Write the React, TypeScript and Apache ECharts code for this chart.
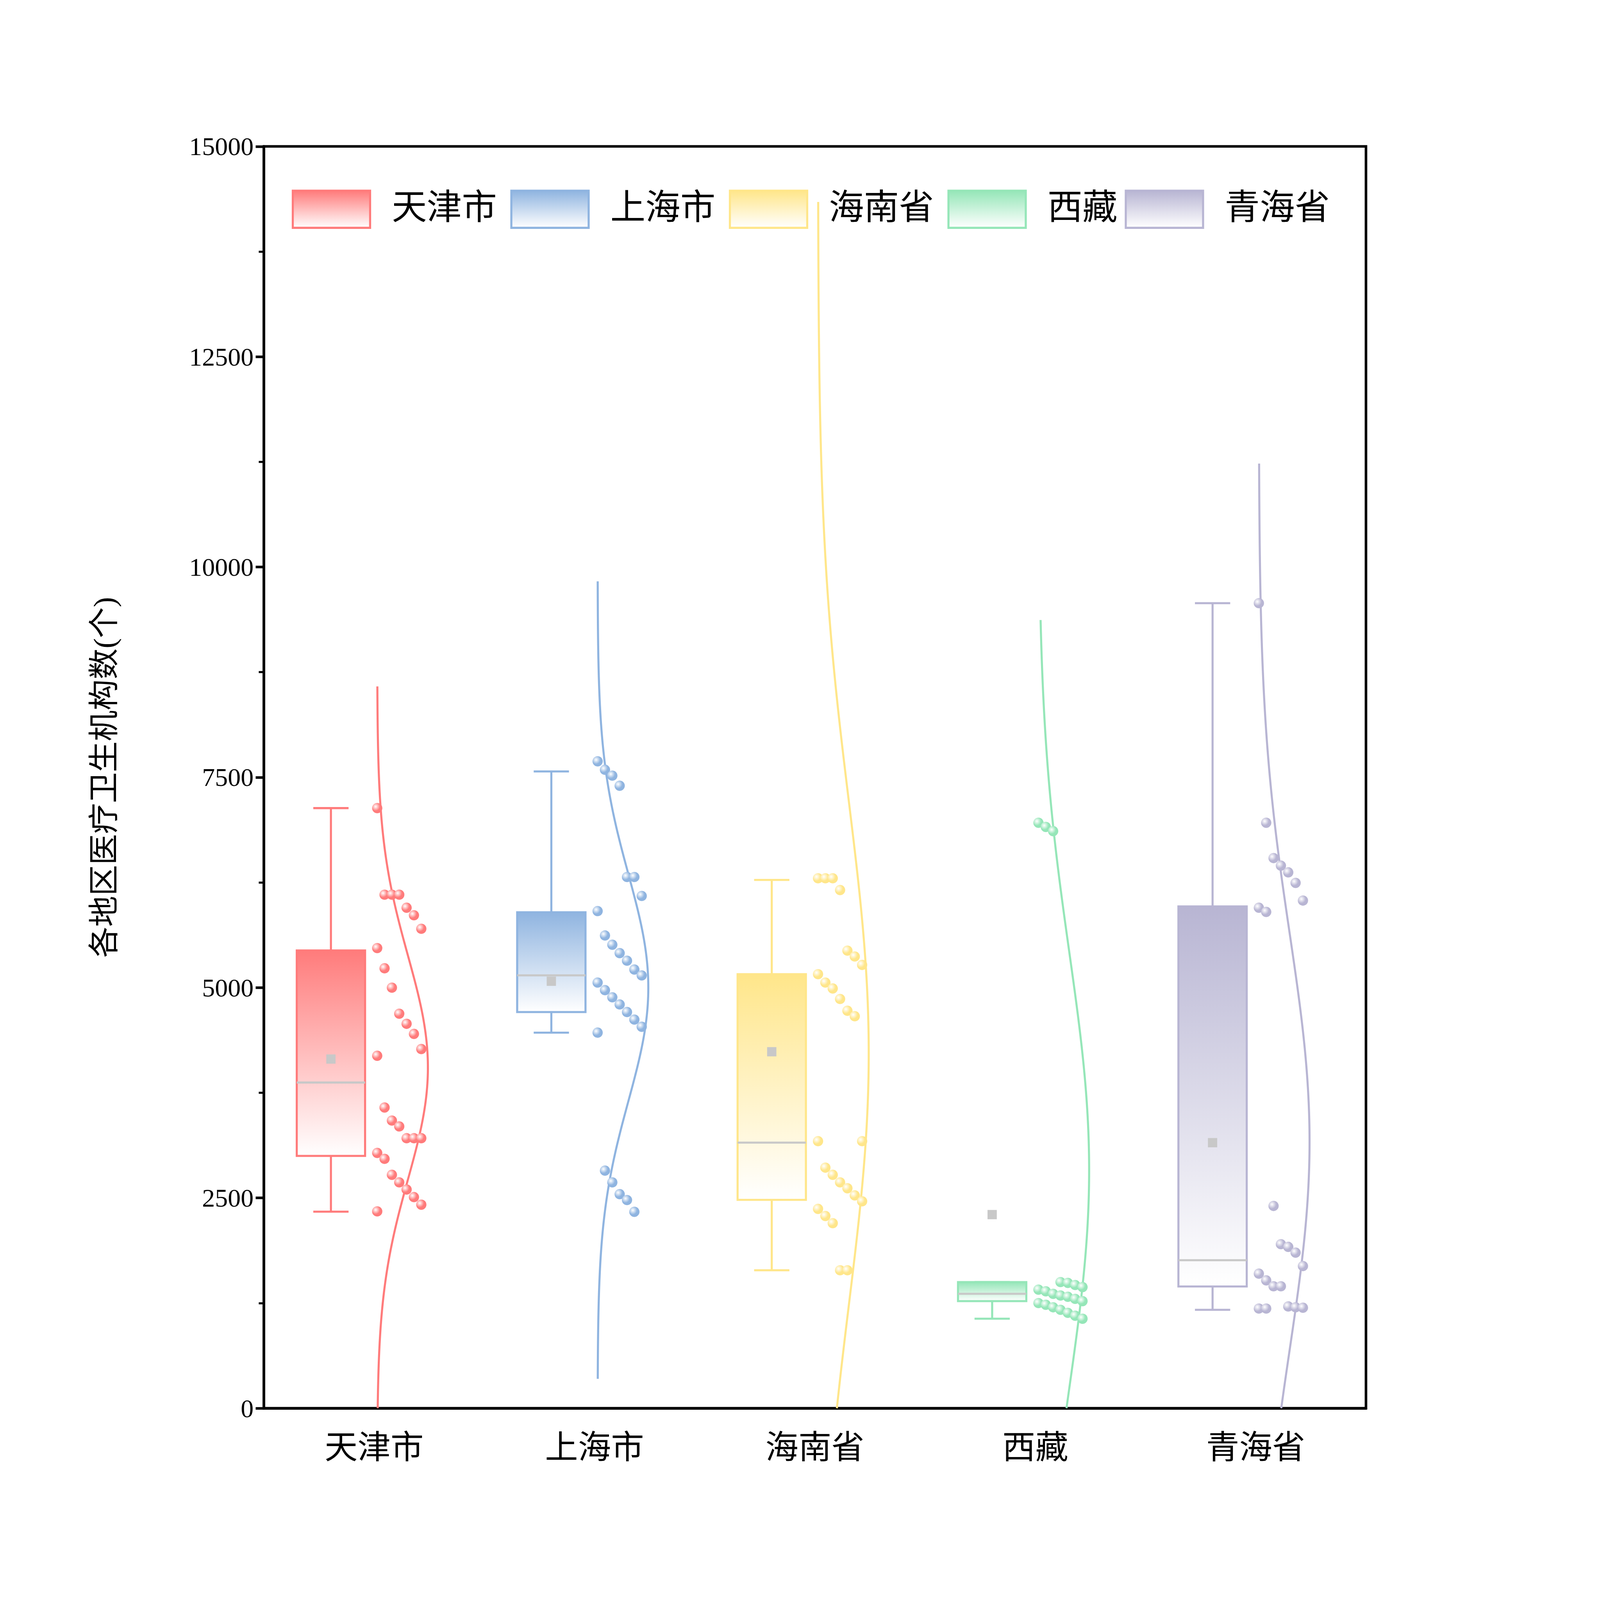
import React, { useEffect, useRef } from 'react';
import * as echarts from 'echarts';

const categories = ['天津市', '上海市', '海南省', '西藏', '青海省'];
const colors = ['#FF7B7B', '#8FB4E0', '#FFE68A', '#95E6B8', '#B8B5D3'];

// box stats: [whiskerLow, q1, median, q3, whiskerHigh]
const boxStats = [
  [2337, 3000, 3872, 5442, 7134],
  [4465, 4710, 5146, 5896, 7570],
  [1640, 2477, 3157, 5160, 6280],
  [1064, 1273, 1360, 1500, 1500],
  [1170, 1448, 1760, 5965, 9570],
];
const means = [4151, 5076, 4238, 2302, 3157];

// half-violin (normal) curves: centre, spread, extent
const curveMean = [4050, 5000, 4220, 2830, 3170];
const curveSd = [1330, 1350, 3000, 2600, 2480];
const curveLow = [0, 350, 0, 0, 0];
const curveHigh = [8580, 9830, 14340, 9370, 11230];

const tianjin = [7134, 6105, 6105, 6105, 5950, 5860, 5700, 5470, 5230, 5000, 4690, 4570, 4450, 4270, 4190, 3575, 3420, 3350, 3210, 3210, 3210, 3035, 2965, 2775, 2685, 2600, 2510, 2420, 2340];
const shanghai = [7690, 7590, 7520, 7400, 6315, 6315, 6090, 5910, 5620, 5510, 5410, 5320, 5215, 5145, 5060, 4970, 4885, 4800, 4710, 4620, 4535, 4465, 2825, 2685, 2545, 2475, 2335];
const hainan = [6300, 6300, 6300, 6160, 5440, 5370, 5270, 5160, 5060, 4990, 4865, 4725, 4660, 3175, 3175, 2860, 2775, 2685, 2615, 2530, 2460, 2370, 2285, 2200, 1640, 1640];
const tibet = [6960, 6910, 6860, 1500, 1490, 1465, 1440, 1410, 1390, 1360, 1340, 1325, 1300, 1273, 1250, 1230, 1200, 1170, 1134, 1100, 1064];
const qinghai = [9570, 6960, 6540, 6450, 6370, 6245, 6035, 5950, 5900, 2405, 1950, 1918, 1850, 1690, 1600, 1520, 1450, 1450, 1210, 1200, 1195, 1185, 1185];
const groups = [tianjin, shanghai, hainan, tibet, qinghai];

const legendX = [283, 495, 707, 919, 1091];

const SERIF = '"Liberation Serif", "DejaVu Serif", "Noto Sans CJK SC", serif';

export default function App() {
  const ref = useRef<HTMLDivElement | null>(null);

  useEffect(() => {
    document.body.style.margin = '0';
    document.body.style.overflow = 'hidden';
    if (!ref.current) return;
    const chart = echarts.init(ref.current, undefined, { renderer: 'svg' });
    const W = ref.current.clientWidth;
    const s = W / 1552;

    const boxSeries = categories.map((name, ci) => ({
      type: 'custom',
      name,
      data: [[ci]],
      silent: true,
      z: 2,
      renderItem: (_p: any, api: any) => {
        const color = colors[ci];
        const band = api.size([1, 0])[0];
        const cx = api.coord([ci, 0])[0];
        const y = (v: number) => api.coord([ci, v])[1];
        const [lo, q1, med, q3, hi] = boxStats[ci];
        const bx = cx - 0.196 * band;
        const bw = 0.31 * band;
        const cap = 0.08 * band;
        const lw = 2 * s;
        const children: any[] = [
          { type: 'line', shape: { x1: bx, y1: y(hi), x2: bx, y2: y(q3) }, style: { stroke: color, lineWidth: lw } },
          { type: 'line', shape: { x1: bx, y1: y(q1), x2: bx, y2: y(lo) }, style: { stroke: color, lineWidth: lw } },
          { type: 'line', shape: { x1: bx - cap, y1: y(hi), x2: bx + cap, y2: y(hi) }, style: { stroke: color, lineWidth: lw } },
          { type: 'line', shape: { x1: bx - cap, y1: y(lo), x2: bx + cap, y2: y(lo) }, style: { stroke: color, lineWidth: lw } },
          {
            type: 'rect',
            shape: { x: bx - bw / 2, y: y(q3), width: bw, height: y(q1) - y(q3) },
            style: {
              fill: new echarts.graphic.LinearGradient(0, 0, 0, 1, [
                { offset: 0, color },
                { offset: 1, color: '#ffffff' },
              ]),
              stroke: color,
              lineWidth: lw,
            },
          },
          { type: 'line', shape: { x1: bx - bw / 2, y1: y(med), x2: bx + bw / 2, y2: y(med) }, style: { stroke: '#C8C8C8', lineWidth: lw } },
          { type: 'rect', shape: { x: bx - 4.5 * s, y: y(means[ci]) - 4.5 * s, width: 9 * s, height: 9 * s }, style: { fill: '#C8C8C8' } },
        ];
        const base = cx + 0.014 * band;
        const amp = 0.23 * band;
        const pts: number[][] = [];
        const n = 200;
        for (let k = 0; k <= n; k++) {
          const v = curveLow[ci] + ((curveHigh[ci] - curveLow[ci]) * k) / n;
          const z = (v - curveMean[ci]) / curveSd[ci];
          pts.push([base + amp * Math.exp((-z * z) / 2), y(v)]);
        }
        children.push({ type: 'polyline', shape: { points: pts }, style: { stroke: color, lineWidth: lw, fill: 'none' } });
        return { type: 'group', children };
      },
    }));

    const pointSeries = categories.map((name, ci) => ({
      type: 'custom',
      name: name + '点',
      data: groups[ci].map((v, j) => [ci, v, j]),
      silent: true,
      z: 3,
      renderItem: (_p: any, api: any) => {
        const band = api.size([1, 0])[0];
        const j = api.value(2);
        const c = api.coord([ci, api.value(1)]);
        const x = c[0] + (0.014 + 0.2 * ((j % 7) / 6)) * band;
        return {
          type: 'circle',
          shape: { cx: x, cy: c[1], r: 5 * s },
          style: {
            fill: new echarts.graphic.RadialGradient(0.35, 0.35, 0.7, [
              { offset: 0, color: '#ffffff' },
              { offset: 0.6, color: colors[ci] },
              { offset: 1, color: colors[ci] },
            ]),
          },
        };
      },
    }));

    const graphic: any[] = [];
    categories.forEach((name, i) => {
      graphic.push({
        type: 'rect',
        left: legendX[i] * s,
        top: 184 * s,
        shape: { width: 75 * s, height: 36 * s },
        style: {
          fill: new echarts.graphic.LinearGradient(0, 0, 0, 1, [
            { offset: 0, color: colors[i] },
            { offset: 1, color: '#ffffff' },
          ]),
          stroke: colors[i],
          lineWidth: 2 * s,
        },
      });
      graphic.push({
        type: 'text',
        left: (legendX[i] + 97) * s,
        top: 184 * s,
        style: { text: name, fontSize: 34 * s, fontFamily: SERIF, fill: '#000' },
      });
    });

    chart.setOption({
      animation: false,
      grid: {
        left: 256 * s,
        right: (1552 - 1325) * s,
        top: 142 * s,
        bottom: (1188 - 1002) * s,
        show: true,
        borderColor: '#000',
        borderWidth: 2.5 * s,
      },
      xAxis: {
        type: 'category',
        data: categories,
        axisLine: { lineStyle: { color: '#000', width: 2.5 * s } },
        axisTick: { alignWithLabel: true, length: 12 * s, lineStyle: { width: 2.5 * s, color: '#000' } },
        axisLabel: { color: '#000', fontSize: 32 * s, fontFamily: SERIF, margin: 22 * s },
      },
      yAxis: {
        type: 'value',
        min: 0,
        max: 15000,
        interval: 2500,
        name: '各地区医疗卫生机构数(个)',
        nameLocation: 'middle',
        nameGap: 140 * s,
        nameTextStyle: { color: '#000', fontSize: 30 * s, fontFamily: SERIF },
        axisLine: { show: true, lineStyle: { color: '#000', width: 2.5 * s } },
        axisTick: { show: true, length: 8 * s, lineStyle: { width: 2.5 * s, color: '#000' } },
        minorTick: { show: true, splitNumber: 2, length: 5 * s, lineStyle: { width: 2 * s, color: '#000' } },
        axisLabel: { color: '#000', fontSize: 25 * s, fontFamily: SERIF, margin: 10 * s, formatter: (v: number) => String(v) },
        splitLine: { show: false },
      },
      graphic,
      series: [...boxSeries, ...pointSeries],
    });
    const onResize = () => chart.resize();
    window.addEventListener('resize', onResize);
    return () => {
      window.removeEventListener('resize', onResize);
      chart.dispose();
    };
  }, []);

  return <div ref={ref} style={{ width: '100vw', height: '100vh', background: '#fff' }} />;
}
